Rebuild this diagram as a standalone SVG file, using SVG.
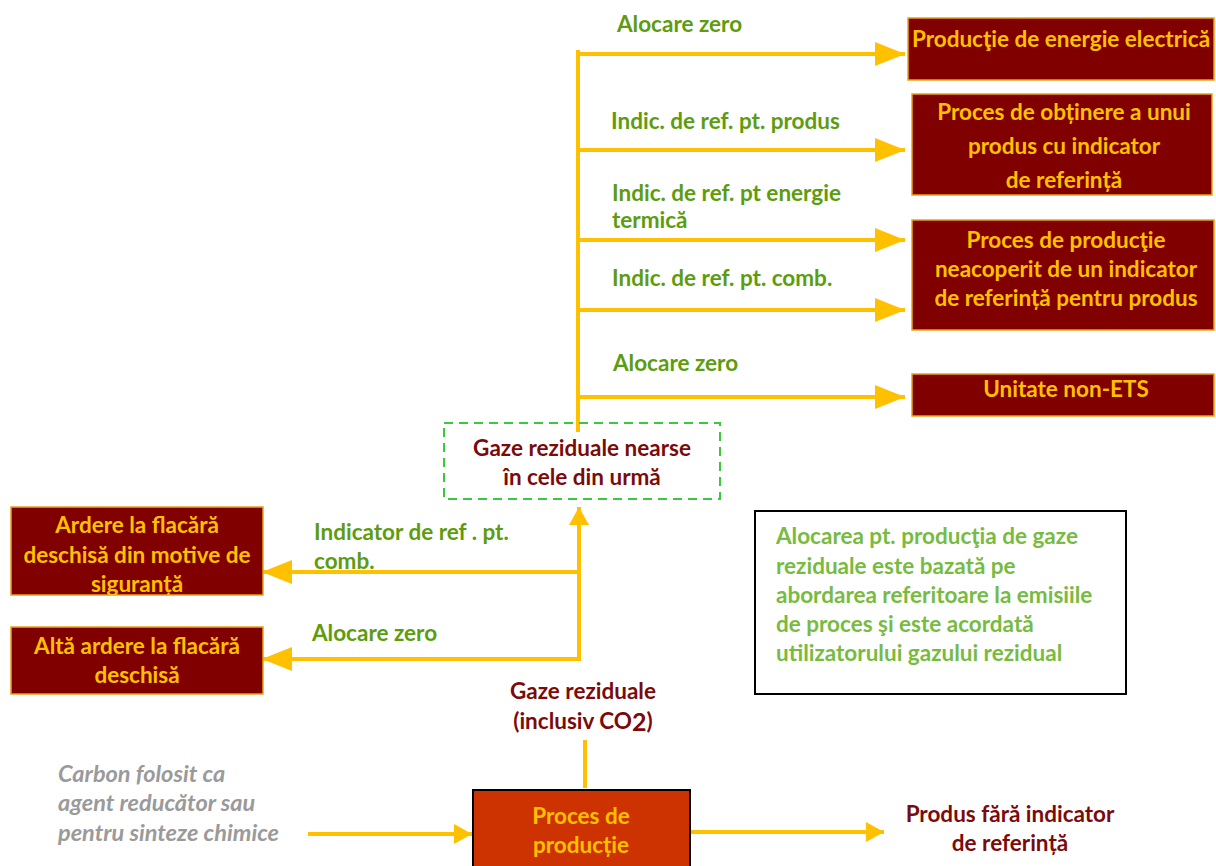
<svg xmlns="http://www.w3.org/2000/svg" width="1216" height="866" viewBox="0 0 1216 866">
<style>
text{font-family:Lato,"Liberation Sans",sans-serif;font-weight:bold;}
.box{fill:#800000;stroke:#E8A317;stroke-width:1.5;}
.bt{fill:#FFC000;font-size:22.5px;text-anchor:middle;}
.lbl{fill:#5E9C0F;font-size:22.5px;}
.dr{fill:#7B0A0A;font-size:22.5px;text-anchor:middle;}
.ln{stroke:#FFC000;stroke-width:4;fill:none;}
.note{fill:#77BB41;font-size:22.5px;}
.gray{fill:#9A9A9A;font-size:23.5px;font-style:italic;}
</style>
<defs>
<marker id="ah" markerUnits="userSpaceOnUse" markerWidth="30" markerHeight="24" refX="30" refY="12" orient="auto">
<path d="M0,0 L30,12 L0,24 Z" fill="#FFC000"/>
</marker>
<marker id="ah2" markerUnits="userSpaceOnUse" markerWidth="18" markerHeight="20" refX="18" refY="10" orient="auto">
<path d="M0,0 L18,10 L0,20 Z" fill="#FFC000"/>
</marker>
</defs>
<rect width="1216" height="866" fill="#FFFFFF"/>

<g id="connectors">
<line class="ln" x1="578" y1="50" x2="578" y2="432"/>
<line class="ln" x1="578" y1="54" x2="905" y2="54" marker-end="url(#ah)"/>
<line class="ln" x1="580" y1="150" x2="905" y2="150" marker-end="url(#ah)"/>
<line class="ln" x1="580" y1="240" x2="905" y2="240" marker-end="url(#ah)"/>
<line class="ln" x1="580" y1="310" x2="905" y2="310" marker-end="url(#ah)"/>
<line class="ln" x1="578" y1="397" x2="905" y2="397" marker-end="url(#ah)"/>
<line class="ln" x1="579" y1="661" x2="579" y2="507" marker-end="url(#ah2)"/>
<line class="ln" x1="577" y1="572" x2="262" y2="572" marker-end="url(#ah)"/>
<line class="ln" x1="581" y1="659" x2="262" y2="659" marker-end="url(#ah)"/>
<line class="ln" x1="585" y1="740" x2="585" y2="788"/>
<line class="ln" x1="308" y1="834" x2="472" y2="834" marker-end="url(#ah2)"/>
<line class="ln" x1="690" y1="832" x2="884" y2="832" marker-end="url(#ah2)"/>
</g>

<g id="labels">
<text class="lbl" x="617" y="32">Alocare zero</text>
<text class="lbl" x="611" y="129">Indic. de ref. pt. produs</text>
<text class="lbl" x="612" y="201">Indic. de ref. pt energie</text>
<text class="lbl" x="612" y="228">termică</text>
<text class="lbl" x="612" y="286">Indic. de ref. pt. comb.</text>
<text class="lbl" x="613" y="371">Alocare zero</text>
<text class="lbl" x="314" y="540">Indicator de ref . pt.</text>
<text class="lbl" x="314" y="569">comb.</text>
<text class="lbl" x="312" y="641">Alocare zero</text>
</g>

<g id="n-electrica">
<rect class="box" x="908" y="18" width="306" height="62"/>
<text class="bt" x="1061" y="47">Producţie de energie electrică</text>
</g>
<g id="n-produs">
<rect class="box" x="912" y="94" width="300" height="101"/>
<text class="bt" x="1064" y="120">Proces de obținere  a unui</text>
<text class="bt" x="1064" y="154">produs cu indicator</text>
<text class="bt" x="1064" y="188">de referință</text>
</g>
<g id="n-neacoperit">
<rect class="box" x="912" y="220" width="302" height="110"/>
<text class="bt" x="1066" y="248">Proces de producţie</text>
<text class="bt" x="1066" y="277">neacoperit de un indicator</text>
<text class="bt" x="1066" y="306">de referință pentru produs</text>
</g>
<g id="n-nonets">
<rect class="box" x="912" y="374" width="302" height="42"/>
<text class="bt" x="1066" y="397">Unitate non-ETS</text>
</g>
<g id="n-nearse">
<rect x="444" y="423" width="276" height="76" fill="none" stroke="#3CC83C" stroke-width="2" stroke-dasharray="9,6"/>
<text class="dr" x="582" y="456">Gaze reziduale nearse</text>
<text class="dr" x="582" y="485">în cele din urmă</text>
</g>
<g id="n-siguranta">
<rect class="box" x="11" y="507" width="252" height="88"/>
<text class="bt" x="137" y="533">Ardere la flacără</text>
<text class="bt" x="137" y="563">deschisă din motive de</text>
<text class="bt" x="137" y="592">siguranță</text>
</g>
<g id="n-alta">
<rect class="box" x="11" y="627" width="252" height="67"/>
<text class="bt" x="137" y="654">Altă ardere la flacără</text>
<text class="bt" x="137" y="683">deschisă</text>
</g>
<g id="n-gaze">
<text class="dr" x="583" y="699">Gaze reziduale</text>
<text class="dr" x="583" y="729">(inclusiv CO<tspan font-size="25" dy="2">2</tspan><tspan dy="-2">)</tspan></text>
</g>
<g id="n-note">
<rect x="755" y="511" width="371" height="183" fill="#FFFFFF" stroke="#000000" stroke-width="2"/>
<text class="note" x="776" y="544">Alocarea pt. producţia de gaze</text>
<text class="note" x="776" y="574">reziduale este bazată pe</text>
<text class="note" x="776" y="603">abordarea referitoare la emisiile</text>
<text class="note" x="776" y="632">de proces şi este acordată</text>
<text class="note" x="776" y="661">utilizatorului gazului rezidual</text>
</g>
<g id="n-carbon">
<text class="gray" x="58" y="782">Carbon folosit ca</text>
<text class="gray" x="58" y="811">agent reducător sau</text>
<text class="gray" x="58" y="841">pentru sinteze chimice</text>
</g>
<g id="n-proces">
<rect x="473" y="790" width="217" height="80" fill="#CC3300" stroke="#000000" stroke-width="2"/>
<text class="bt" x="581" y="824">Proces de</text>
<text class="bt" x="581" y="853">producție</text>
</g>
<g id="n-fara">
<text class="dr" x="1010" y="822">Produs fără indicator</text>
<text class="dr" x="1010" y="851">de referință</text>
</g>
</svg>
